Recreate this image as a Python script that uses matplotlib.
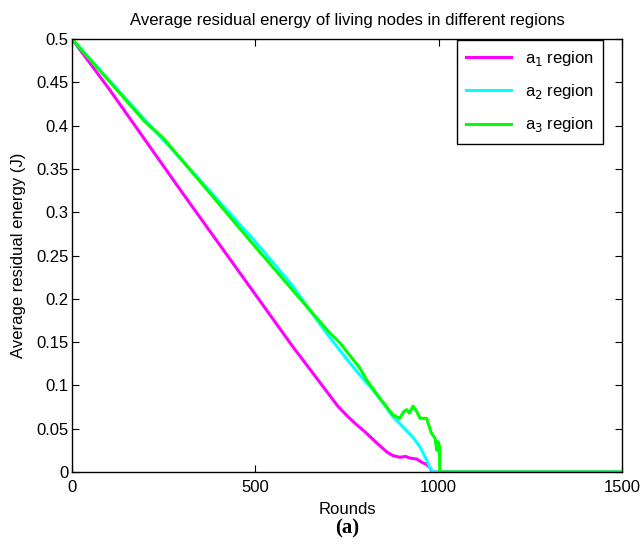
import matplotlib
matplotlib.use("Agg")
import matplotlib.pyplot as plt

plt.rcParams['font.family'] = ['Liberation Sans', 'DejaVu Sans']

# Data
a1_rounds = [0, 100, 200, 300, 400, 500, 600, 700, 725, 750, 775, 800, 830, 859, 875, 894, 910, 922, 940, 955, 966, 976, 982, 1500]
a1_energy = [0.5, 0.443, 0.383, 0.323, 0.264, 0.205, 0.146, 0.09, 0.076, 0.065, 0.055, 0.046, 0.034, 0.023, 0.019, 0.017, 0.018, 0.016, 0.015, 0.011, 0.009, 0.005, 0.0, 0.0]

a2_rounds = [0, 100, 200, 300, 400, 500, 600, 650, 700, 750, 785, 820, 848, 875, 903, 930, 949, 967, 976, 985, 1500]
a2_energy = [0.5, 0.453, 0.406, 0.36, 0.313, 0.266, 0.216, 0.186, 0.157, 0.13, 0.112, 0.095, 0.08, 0.064, 0.052, 0.04, 0.029, 0.014, 0.005, 0.0, 0.0]

a3_rounds = [0, 100, 200, 248, 300, 400, 500, 622, 700, 731, 785, 804, 840, 875, 894, 905, 913, 920, 930, 940, 949, 967, 980, 990, 995, 998, 1002, 1003, 1500]
a3_energy = [0.5, 0.452, 0.404, 0.386, 0.36, 0.31, 0.26, 0.2, 0.162, 0.149, 0.12, 0.106, 0.085, 0.066, 0.062, 0.07, 0.072, 0.068, 0.076, 0.07, 0.062, 0.062, 0.045, 0.039, 0.025, 0.035, 0.03, 0.0, 0.0]

labels = ['a$_1$ region', 'a$_2$ region', 'a$_3$ region']
colors = ['#ff00ff', '#00ffff', '#00ff00']

fig = plt.figure(figsize=(6.43, 5.47), dpi=100)
ax = fig.add_axes([72/643, 1 - 472/547, 550/643, 433/547])

ax.plot(a1_rounds, a1_energy, color=colors[0], lw=2.2, label=labels[0])
ax.plot(a2_rounds, a2_energy, color=colors[1], lw=2.2, label=labels[1])
ax.plot(a3_rounds, a3_energy, color=colors[2], lw=2.2, label=labels[2])

ax.set_xlim(0, 1500)
ax.set_ylim(0, 0.5)
ax.set_xticks([0, 500, 1000, 1500])
ax.set_yticks([0, 0.05, 0.1, 0.15, 0.2, 0.25, 0.3, 0.35, 0.4, 0.45, 0.5])
ax.set_yticklabels(['0', '0.05', '0.1', '0.15', '0.2', '0.25', '0.3', '0.35', '0.4', '0.45', '0.5'])
ax.tick_params(direction='in', top=True, right=True, labelsize=12, length=5, width=0.8)
ax.tick_params(axis='y', pad=2.5)
ax.tick_params(axis='x', pad=6)
for s in ax.spines.values():
    s.set_linewidth(1.0)

ax.set_title('Average residual energy of living nodes in different regions', fontsize=12, pad=10)
ax.set_ylabel('Average residual energy (J)', fontsize=12, labelpad=7)
ax.set_xlabel('Rounds', fontsize=12, labelpad=5)

leg = ax.legend(loc='upper right', fontsize=12, frameon=True, fancybox=False,
                edgecolor='black', framealpha=1, handlelength=2.7, borderpad=0.55,
                labelspacing=0.85, borderaxespad=0, bbox_to_anchor=(0.965, 0.998))
leg.get_frame().set_linewidth(1.0)

fig.text(0.5 * (72 + 622) / 643, 1 - 528/547, '(a)', fontsize=15, fontweight='bold',
         family='Liberation Serif', ha='center', va='center')

fig.savefig('out.png', dpi=100)
